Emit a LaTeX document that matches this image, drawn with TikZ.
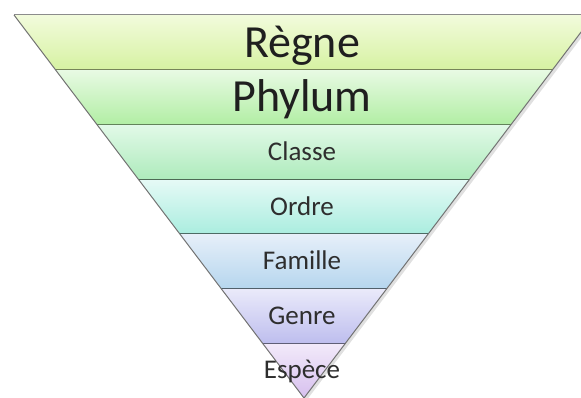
\documentclass[tikz,border=0pt]{standalone}
\usepackage{fontspec}
\setmainfont{Carlito}
\definecolor{bAt}{HTML}{F2FBDC}\definecolor{bAb}{HTML}{D6F2A2}
\definecolor{bBt}{HTML}{E8FAE4}\definecolor{bBb}{HTML}{B2EEA4}
\definecolor{bCt}{HTML}{E2F9E8}\definecolor{bCb}{HTML}{AEEBBC}
\definecolor{bDt}{HTML}{E6FAF6}\definecolor{bDb}{HTML}{AAEDDF}
\definecolor{bEt}{HTML}{E6EFF9}\definecolor{bEb}{HTML}{B6D6EE}
\definecolor{bFt}{HTML}{EAEAFA}\definecolor{bFb}{HTML}{BEBEEE}
\definecolor{bGt}{HTML}{F2EAFA}\definecolor{bGb}{HTML}{D6BFEE}
\begin{document}
\begin{tikzpicture}[x=1pt,y=1pt,
  big/.style={text=black!88, font=\fontsize{46}{46}\selectfont, text height=29.6pt, text depth=0pt, inner sep=0pt},
  lbl/.style={text=black!82, font=\fontsize{27}{27}\selectfont, text height=17.4pt, text depth=0pt, inner sep=0pt},
  sep/.style={line width=1.1pt}]
\useasboundingbox (0,0) rectangle (581,397);
\coordinate (TL) at (14,382);
\coordinate (TR) at (594,382);
\coordinate (A) at (304,-1);
% soft shadow
\fill[black, opacity=0.12] (16,380) -- (597,380) -- (306,-4) -- cycle;
\begin{scope}
  \clip (TL) -- (TR) -- (A) -- cycle;
  \shade[top color=bAt, bottom color=bAb] (0,327.3) rectangle (610,382);
  \shade[top color=bBt, bottom color=bBb] (0,272.6) rectangle (610,327.3);
  \shade[top color=bCt, bottom color=bCb] (0,217.9) rectangle (610,272.6);
  \shade[top color=bDt, bottom color=bDb] (0,163.1) rectangle (610,217.9);
  \shade[top color=bEt, bottom color=bEb] (0,108.4) rectangle (610,163.1);
  \shade[top color=bFt, bottom color=bFb] (0,53.7) rectangle (610,108.4);
  \shade[top color=bGt, bottom color=bGb] (0,-2) rectangle (610,53.7);
\end{scope}
% band boundaries
\draw[sep, draw=bAb!55!black] (55.4,327.3) -- (552.6,327.3);
\draw[sep, draw=bBb!55!black] (96.8,272.6) -- (511.2,272.6);
\draw[sep, draw=bCb!45!black] (138.2,217.9) -- (469.8,217.9);
\draw[sep, draw=bDb!45!black] (179.7,163.1) -- (428.3,163.1);
\draw[sep, draw=bEb!45!black] (221.1,108.4) -- (386.9,108.4);
\draw[sep, draw=bFb!50!black] (262.5,53.7) -- (345.5,53.7);
% outline
\draw[line width=1pt, draw=black!45] (TL) -- (TR);
\draw[line width=1pt, draw=black!55] (TL) -- (A) -- (TR);
% labels
\node[big] (regne) at (302,354.6) {Règne};
\node[big] (phylum) at (302,299.9) {Phylum};
\node[lbl] (classe) at (302,245.2) {Classe};
\node[lbl] (ordre) at (302,190.5) {Ordre};
\node[lbl] (famille) at (302,135.8) {Famille};
\node[lbl] (genre) at (302,81) {Genre};
\node[lbl] (espece) at (302,27) {Espèce};
\end{tikzpicture}
\end{document}
